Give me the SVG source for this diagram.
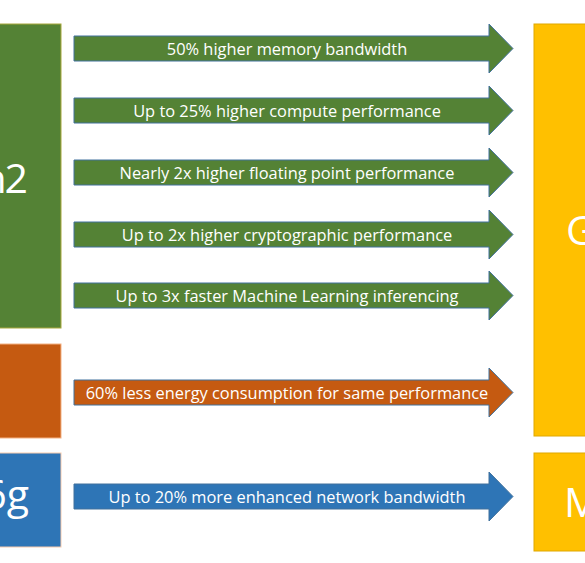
<svg xmlns="http://www.w3.org/2000/svg" width="585" height="563" viewBox="0 0 585 563">
<style>
.lbl{font-family:"Open Sans","Liberation Sans",sans-serif;font-size:16.4px;fill:#fff;text-anchor:middle}
.big{font-family:"Open Sans","Liberation Sans",sans-serif;font-size:41px;fill:#fff}
.arr{stroke:#41719C;stroke-width:1}
.g{fill:#548235}.o{fill:#C55A11}.b{fill:#2E75B6}.y{fill:#FFC000}
</style>
<rect width="585" height="563" fill="#fff"/>
<g id="box-green"><rect x="-1" y="24" width="62" height="304" class="g" stroke="#A8A83C" stroke-width="1"/><text class="big" x="26" y="193" text-anchor="end" letter-spacing="-2">n2</text></g>
<g id="box-orange"><rect x="-1" y="344" width="62" height="94" class="o" stroke="#F4B183" stroke-width="1"/></g>
<g id="box-blue"><rect x="-1" y="453" width="62" height="94" class="b" stroke="#F8CBAD" stroke-width="1"/><text class="big" x="29" y="509" text-anchor="end">6g</text></g>
<g id="box-yellow1"><rect x="534" y="24" width="60" height="412" class="y" stroke="#E0A800" stroke-width="1"/><text class="big" x="566" y="245">G</text></g>
<g id="box-yellow2"><rect x="534" y="453" width="60" height="98" class="y" stroke="#E0A800" stroke-width="1"/><text class="big" x="564" y="517">M</text></g>
<g id="connectors">
<g id="a1"><path class="arr g" d="M74 36H489V24L513 48.5L489 73V61H74Z"/><text class="lbl" x="287" y="55">50% higher memory bandwidth</text></g>
<g id="a2"><path class="arr g" d="M74 98H489V86L513 110.5L489 135V123H74Z"/><text class="lbl" x="287" y="117">Up to 25% higher compute performance</text></g>
<g id="a3"><path class="arr g" d="M74 160H489V148L513 172.5L489 197V185H74Z"/><text class="lbl" x="287" y="179">Nearly 2x higher floating point performance</text></g>
<g id="a4"><path class="arr g" d="M74 222H489V210L513 234.5L489 259V247H74Z"/><text class="lbl" x="287" y="241">Up to 2x higher cryptographic performance</text></g>
<g id="a5"><path class="arr g" d="M74 283H489V271L513 295.5L489 320V308H74Z"/><text class="lbl" x="287" y="302">Up to 3x faster Machine Learning inferencing</text></g>
<g id="a6"><path class="arr o" d="M74 380H489V368L513 392.5L489 417V405H74Z"/><text class="lbl" x="287" y="399">60% less energy consumption for same performance</text></g>
<g id="a7"><path class="arr b" d="M74 484H489V472L513 496.5L489 521V509H74Z"/><text class="lbl" x="287" y="503">Up to 20% more enhanced network bandwidth</text></g>
</g>
</svg>
